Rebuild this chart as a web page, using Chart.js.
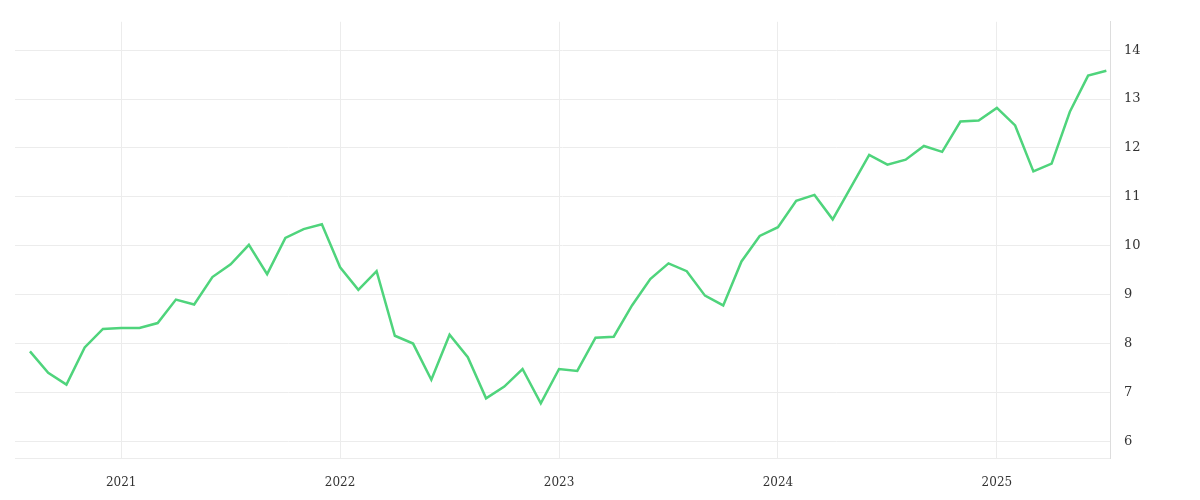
<!DOCTYPE html>
<html><head><meta charset="utf-8">
<script src="https://cdn.jsdelivr.net/npm/chart.js@4/dist/chart.umd.min.js"></script>
<style>html,body{margin:0;padding:0;background:#fff}#w{width:1200px;height:500px}</style>
</head><body><div id="w"><canvas id="c"></canvas></div>
<script>
const startYear = 2020, startMonth = 8;
const values = [7.84,7.40,7.16,7.92,8.30,8.32,8.32,8.42,8.90,8.80,9.36,9.62,10.02,9.42,10.16,10.34,10.44,
9.56,9.10,9.48,8.16,8.00,7.26,8.18,7.72,6.88,7.12,7.48,6.78,
7.48,7.44,8.12,8.14,8.78,9.32,9.64,9.48,8.98,8.78,9.68,10.20,
10.38,10.92,11.04,10.54,11.20,11.86,11.66,11.76,12.04,11.92,12.54,12.56,
12.82,12.46,11.52,11.68,12.74,13.48,13.58];
const yearLabels = ["2021","2022","2023","2024","2025"];
const yTicks = [6,7,8,9,10,11,12,13,14];
const pts = values.map((v,i)=>({x:i,y:v}));
const yearIdx = yearLabels.map(y=>(parseInt(y)-startYear)*12-(startMonth-1));
const font = {family:"'DejaVu Serif', serif", size:12};
new Chart(document.getElementById('c'),{
  type:'line',
  data:{datasets:[{data:pts,borderColor:'#4fd47c',borderWidth:2.5,pointRadius:0,tension:0,fill:false}]},
  options:{
    responsive:true,maintainAspectRatio:false,animation:false,
    layout:{padding:{left:15,top:4,right:0,bottom:0}},
    plugins:{legend:{display:false},tooltip:{enabled:false}},
    scales:{
      x:{type:'linear',min:-0.82,max:59.2,
        afterBuildTicks:s=>{s.ticks=yearIdx.map(v=>({value:v}));},
        afterFit:s=>{s.height=42;},
        ticks:{font,color:'#333',maxRotation:0,padding:18,callback:(v)=>{const k=yearIdx.indexOf(v);return k>=0?yearLabels[k]:'';}},
        grid:{color:'#ececec',drawTicks:false},border:{display:true,color:'#ececec'}},
      y:{position:'right',min:5.66,max:14.58,
        afterBuildTicks:s=>{s.ticks=yTicks.map(v=>({value:v}));},
        afterFit:s=>{s.width=90;},
        ticks:{font:{family:font.family,size:13},color:'#333',padding:14},
        grid:{color:'#ececec',drawTicks:false},border:{display:true,color:'#dddddd'}}
    }
  }
});
</script></body></html>
